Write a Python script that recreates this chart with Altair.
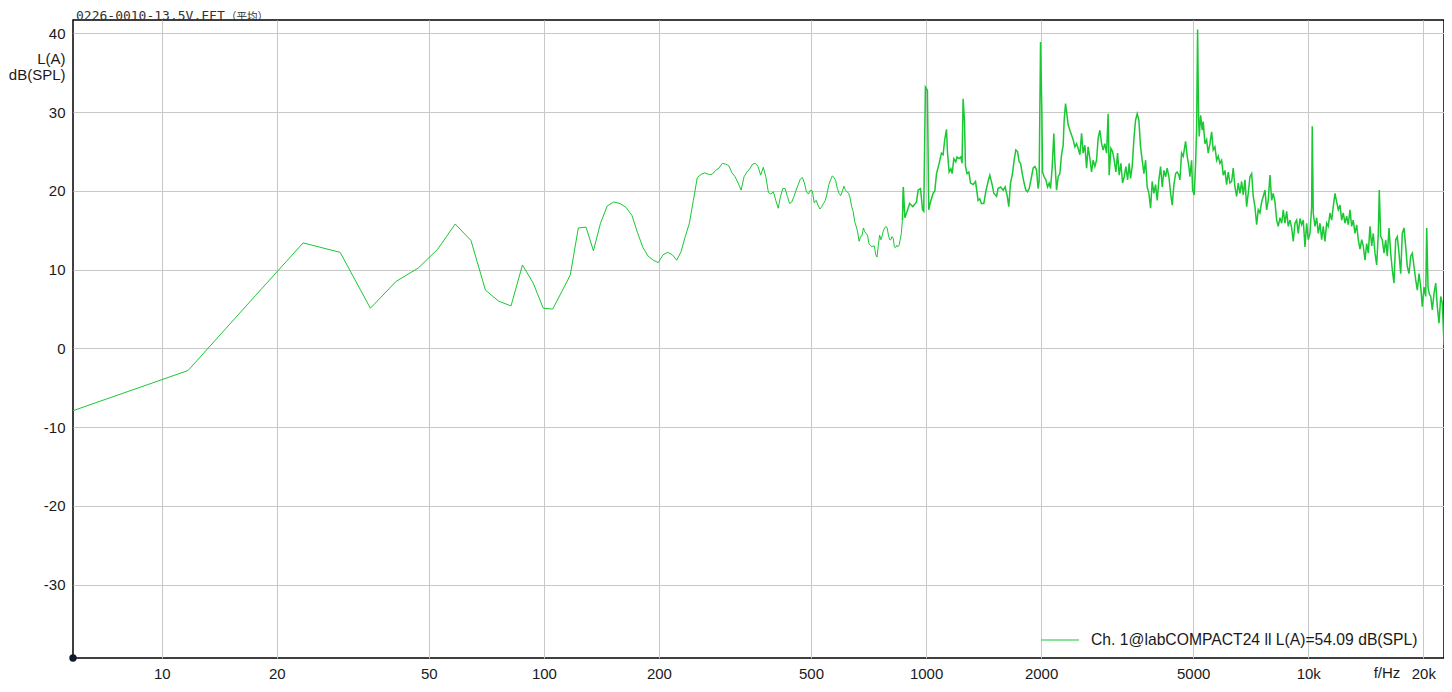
import altair as alt
import pandas as pd

# FFT bin spacing (48 kHz / 8192 points)
BIN_HZ = 48000 / 8192

# Levels of the first FFT bins (bin 1, 2, 3, ...), dB(SPL) A-weighted
LOW_DB = [
    -7.9, -2.8, 6.7, 13.4, 12.2, 5.1, 8.5, 10.2, 12.6, 15.8,
    13.7, 7.4, 6.0, 5.4, 10.6, 8.3, 5.1, 5.0, 7.2, 9.3,
    15.3, 15.4, 12.4, 15.9, 18.1, 18.6, 18.4, 17.9, 16.9, 14.7,
    12.8, 11.7, 11.2, 10.9, 11.9, 12.2, 11.9, 11.2, 12.3, 14.2,
    15.9, 18.8, 21.7, 22.1, 22.3, 22.1, 22.1, 22.6, 22.9, 23.5,
    23.4, 23.2, 22.3, 21.8, 21.0, 20.1, 21.8, 22.4, 22.8, 23.4,
    23.5, 23.1, 22.0, 23.0, 21.8, 19.8, 19.6, 19.9, 18.8, 17.8,
    19.3, 20.3, 20.3, 19.3, 18.4, 18.6, 19.3, 20.1, 20.8, 21.5,
    21.7, 21.0, 19.9, 19.6, 20.1, 20.0, 18.5, 18.8, 18.2, 17.7,
    18.0, 18.4, 18.8, 19.7, 20.8, 21.4, 21.9, 21.7, 21.3, 20.3,
    19.7, 19.4, 19.9, 20.6, 20.1, 19.9, 19.7, 19.1, 18.0, 17.4,
    16.1, 15.5, 14.8, 13.6, 14.2, 14.3, 15.3, 14.8, 14.6, 14.3,
    13.3, 13.1, 12.9, 13.0, 13.0, 11.9, 11.6, 13.1, 14.4, 13.8,
    14.3, 15.0, 15.3, 15.5, 15.3, 14.4, 13.8, 13.8, 14.2, 14.0,
    12.9, 12.8, 13.1, 12.9, 13.1, 13.8, 14.6, 16.3,
]

# Higher band, read as (frequency in Hz, level in dB)
HIGH_HZ = [
    872, 880, 889, 906, 923, 944, 953, 967, 979, 986,
    996, 1008, 1016, 1027, 1043, 1054, 1065, 1082, 1097, 1108,
    1119, 1131, 1138, 1149, 1161, 1170, 1182, 1196, 1205, 1220,
    1233, 1242, 1250, 1260, 1268, 1280, 1294, 1307, 1328, 1347,
    1368, 1382, 1396, 1416, 1433, 1453, 1468, 1489, 1504, 1529,
    1543, 1566, 1591, 1610, 1630, 1646, 1663, 1683, 1700, 1717,
    1735, 1752, 1767, 1788, 1805, 1824, 1843, 1861, 1888, 1906,
    1926, 1945, 1964, 1976, 1993, 2009, 2017, 2037, 2058, 2079,
    2099, 2117, 2137, 2159, 2172, 2195, 2216, 2239, 2262, 2284,
    2298, 2317, 2340, 2354, 2378, 2402, 2426, 2451, 2476, 2500,
    2526, 2552, 2576, 2603, 2630, 2655, 2683, 2710, 2736, 2765,
    2793, 2820, 2849, 2879, 2906, 2936, 2967, 2995, 3014, 3045,
    3076, 3106, 3138, 3170, 3201, 3234, 3267, 3299, 3333, 3367,
    3400, 3428, 3462, 3497, 3533, 3568, 3604, 3641, 3677, 3715,
    3753, 3789, 3828, 3868, 3905, 3945, 3986, 4025, 4066, 4108,
    4148, 4191, 4234, 4275, 4319, 4363, 4406, 4451, 4497, 4540,
    4587, 4615, 4662, 4708, 4776, 4822, 4872, 4902, 4952, 4982,
    5030, 5073, 5104, 5134, 5166, 5184, 5228, 5279, 5311, 5366,
    5421, 5473, 5530, 5587, 5641, 5699, 5758, 5814, 5873, 5934,
    5991, 6053, 6115, 6175, 6238, 6303, 6364, 6429, 6495, 6558,
    6626, 6694, 6759, 6829, 6899, 6966, 7038, 7110, 7179, 7253,
    7328, 7399, 7475, 7552, 7625, 7704, 7783, 7858, 7939, 8021,
    8099, 8182, 8267, 8347, 8433, 8520, 8602, 8691, 8780, 8865,
    8957, 9049, 9137, 9231, 9326, 9416, 9513, 9611, 9704, 9804,
    9905, 10000, 10103, 10207, 10244, 10306, 10412, 10520, 10621, 10731,
    10841, 10946, 11059, 11173, 11281, 11398, 11515, 11627, 11746, 11867,
    11982, 12106, 12230, 12349, 12476, 12605, 12727, 12858, 12990, 13116,
    13251, 13388, 13517, 13657, 13798, 13931, 14075, 14220, 14358, 14506,
    14655, 14797, 14950, 15103, 15250, 15342, 15472, 15622, 15783, 15945,
    16100, 16266, 16433, 16592, 16763, 16936, 17100, 17276, 17454, 17623,
    17805, 17989, 18163, 18350, 18539, 18719, 18912, 19107, 19292, 19491,
    19692, 19883, 20086, 20293, 20416, 20576, 20738, 20914, 21117, 21334,
    21554, 21763, 21987, 22214, 22429, 22660, 22894, 23116, 23354, 23495,
]
HIGH_DB = [
    20.5, 16.6, 17.2, 18.4, 18.0, 18.6, 20.1, 20.3, 17.6, 17.4,
    33.2, 32.8, 17.6, 18.6, 19.7, 20.0, 22.2, 23.5, 24.8, 24.6,
    26.5, 27.8, 24.8, 22.4, 22.8, 22.2, 24.1, 23.7, 24.3, 24.1,
    24.3, 23.5, 31.7, 29.0, 23.1, 22.2, 22.4, 21.0, 20.8, 21.2,
    18.8, 19.0, 18.4, 18.4, 19.9, 21.2, 22.0, 20.8, 19.7, 19.3,
    20.3, 20.5, 20.1, 20.5, 19.4, 18.0, 21.0, 22.2, 23.9, 25.2,
    25.0, 23.7, 23.5, 22.0, 21.0, 20.1, 19.9, 20.3, 21.8, 22.9,
    23.1, 22.7, 20.3, 21.2, 38.9, 30.0, 22.4, 21.8, 21.4, 20.5,
    21.0, 20.3, 22.9, 27.3, 23.9, 20.1, 21.8, 22.2, 24.6, 25.8,
    29.0, 31.1, 29.4, 28.4, 27.7, 27.1, 26.5, 25.6, 26.0, 25.4,
    24.6, 27.3, 24.8, 25.8, 22.9, 25.6, 24.1, 22.4, 23.9, 23.1,
    23.9, 26.7, 27.7, 26.0, 25.2, 26.0, 24.8, 29.8, 22.0, 25.4,
    25.0, 23.9, 22.4, 24.8, 22.0, 23.5, 21.0, 21.8, 23.1, 21.4,
    23.5, 21.6, 23.1, 26.5, 29.0, 29.8, 29.0, 25.6, 23.9, 22.2,
    23.9, 20.5, 19.7, 17.8, 21.2, 19.7, 20.8, 18.8, 21.4, 23.1,
    20.5, 22.6, 21.8, 22.9, 21.8, 19.7, 18.2, 20.8, 22.2, 22.4,
    22.0, 21.4, 24.8, 24.4, 26.3, 24.4, 23.1, 21.8, 23.9, 20.1,
    19.5, 23.5, 28.0, 40.5, 29.0, 26.9, 29.6, 27.7, 28.8, 26.0,
    26.5, 24.8, 26.0, 27.5, 25.2, 25.6, 23.9, 24.4, 23.5, 23.9,
    22.0, 22.6, 20.8, 22.4, 21.0, 21.2, 22.9, 20.5, 19.3, 21.0,
    19.7, 21.2, 19.5, 21.4, 18.0, 19.7, 21.8, 22.2, 19.3, 18.0,
    15.7, 17.6, 17.2, 18.6, 19.3, 20.1, 17.6, 18.8, 22.0, 18.8,
    19.7, 18.6, 16.3, 15.5, 16.6, 15.9, 17.6, 15.9, 17.4, 15.5,
    16.3, 15.3, 13.6, 15.9, 16.3, 14.6, 16.5, 15.7, 16.3, 12.9,
    15.9, 13.8, 14.6, 18.0, 28.2, 17.2, 15.5, 16.6, 14.6, 15.9,
    13.8, 15.5, 13.6, 15.9, 15.5, 17.2, 16.3, 18.0, 19.7, 18.6,
    17.6, 18.2, 16.3, 17.2, 15.9, 16.8, 15.7, 17.6, 15.5, 16.3,
    14.6, 15.7, 13.8, 12.6, 13.8, 13.0, 11.2, 13.3, 12.1, 15.5,
    13.0, 14.6, 12.1, 10.6, 14.6, 20.1, 14.2, 13.8, 12.1, 13.8,
    11.7, 15.3, 12.1, 10.0, 8.3, 13.8, 14.2, 12.1, 9.5, 14.6,
    15.3, 12.9, 10.4, 9.5, 11.7, 12.1, 10.4, 8.7, 7.4, 9.5,
    7.8, 5.3, 7.8, 6.6, 15.3, 7.8, 6.9, 6.6, 4.9, 7.0,
    8.3, 5.3, 3.2, 6.6, 5.7, 0.4, 4.4, 2.3, 1.0, -1.0,
]

X_TICKS = [10, 20, 50, 100, 200, 500, 1000, 2000, 5000, 10000, 20000]
Y_TICKS = [40, 30, 20, 10, 0, -10, -20, -30]
X_DOMAIN = [5.859, 22657]
Y_DOMAIN = [-39.3, 41.7]

TITLE_FILE = "0226-0010-13.5V.FFT"
TITLE_NOTE = "（平均）"
SERIES = "Ch. 1@labCOMPACT24 ll L(A)=54.09 dB(SPL)"
Y_TITLE = ["L(A)", "dB(SPL)"]
X_UNIT = "f/Hz"

FONT = "Liberation Sans, Arial, Noto Sans CJK SC"
TFONT = "DejaVu Sans Mono"
CJK = "Noto Sans CJK SC"
GREEN = "#19c832"
TXT = "#1a1a1a"

W, H = 1371, 638

low_f = [k * BIN_HZ for k in range(1, len(LOW_DB) + 1)]
df_low = pd.DataFrame({"f": low_f + HIGH_HZ[:1], "L": LOW_DB + HIGH_DB[:1], "series": SERIES})
df_high = pd.DataFrame({"f": low_f[-1:] + HIGH_HZ, "L": LOW_DB[-1:] + HIGH_DB, "series": SERIES})

x_enc = alt.X(
    "f:Q",
    scale=alt.Scale(type="log", domain=X_DOMAIN, nice=False),
    axis=alt.Axis(
        values=X_TICKS,
        labelExpr="datum.value >= 10000 ? format(datum.value / 1000, 'd') + 'k' : format(datum.value, 'd')",
        title=None,
        grid=True,
        ticks=False,
        tickSize=0,
        domain=False,
        labelPadding=15,
        labelBaseline="middle",
        labelFlush=False,
        labelOverlap=False,
    ),
)
y_enc = alt.Y(
    "L:Q",
    scale=alt.Scale(domain=Y_DOMAIN, nice=False, zero=False),
    axis=alt.Axis(
        values=Y_TICKS,
        labelExpr="datum.value < 0 ? '-' + abs(datum.value) : '' + datum.value",
        title=Y_TITLE,
        titleAngle=0,
        titleAlign="right",
        titleBaseline="alphabetic",
        titleX=-8,
        titleY=43,
        titleLineHeight=16.5,
        titleFont=FONT,
        titleFontSize=15,
        titleFontWeight="normal",
        titleColor=TXT,
        grid=True,
        ticks=False,
        tickSize=0,
        domain=False,
        labelPadding=8,
        labelFlush=False,
        labelOverlap=False,
    ),
)

color_enc = alt.Color(
    "series:N",
    scale=alt.Scale(range=[GREEN]),
    legend=alt.Legend(
        title=None,
        orient="none",
        legendX=967,
        legendY=600,
        symbolType="stroke",
        symbolSize=1444,
        symbolStrokeWidth=1.2,
        labelFont=FONT,
        labelFontSize=15.7,
        labelColor=TXT,
        labelOffset=11,
        labelLimit=800,
        padding=0,
    ),
)

line_low = (
    alt.Chart(df_low)
    .mark_line(strokeWidth=1.0, clip=True)
    .encode(x=x_enc, y=y_enc, order="f:Q", color=color_enc)
)
line_high = (
    alt.Chart(df_high)
    .mark_line(strokeWidth=1.5, clip=True)
    .encode(x=x_enc, y=y_enc, order="f:Q", color=color_enc)
)

title_file = (
    alt.Chart(pd.DataFrame({"t": [TITLE_FILE]}))
    .mark_text(align="left", baseline="alphabetic", font=TFONT, fontSize=13, color="#333333")
    .encode(x=alt.value(3), y=alt.value(0.2), text="t:N")
)
title_note = (
    alt.Chart(pd.DataFrame({"t": [TITLE_NOTE]}))
    .mark_text(align="left", baseline="alphabetic", font=CJK, fontSize=10.5, color="#333333")
    .encode(x=alt.value(153), y=alt.value(0.2), text="t:N")
)

unit = (
    alt.Chart(pd.DataFrame({"t": [X_UNIT]}))
    .mark_text(align="center", baseline="middle", font=FONT, fontSize=15, color=TXT)
    .encode(x=alt.value(1314), y=alt.value(H + 15), text="t:N")
)

dot = (
    alt.Chart(pd.DataFrame({"d": [0]}))
    .mark_point(filled=True, size=55, color="#0d1b2a", opacity=1)
    .encode(x=alt.value(0), y=alt.value(H))
)

chart = (
    alt.layer(line_low, line_high, title_file, title_note, unit, dot)
    .properties(
        width=W,
        height=H,
        autosize=alt.AutoSizeParams(type="none"),
        padding={"left": 65, "top": 12, "right": 0, "bottom": 26},
        background="white",
    )
    .configure_view(stroke="black", strokeWidth=1.5)
    .configure_axis(
        gridColor="#c8c8c8",
        gridWidth=1,
        labelFont=FONT,
        labelFontSize=15,
        labelColor=TXT,
    )
)

chart.save("out.html", embed_options={"renderer": "svg", "actions": False})
